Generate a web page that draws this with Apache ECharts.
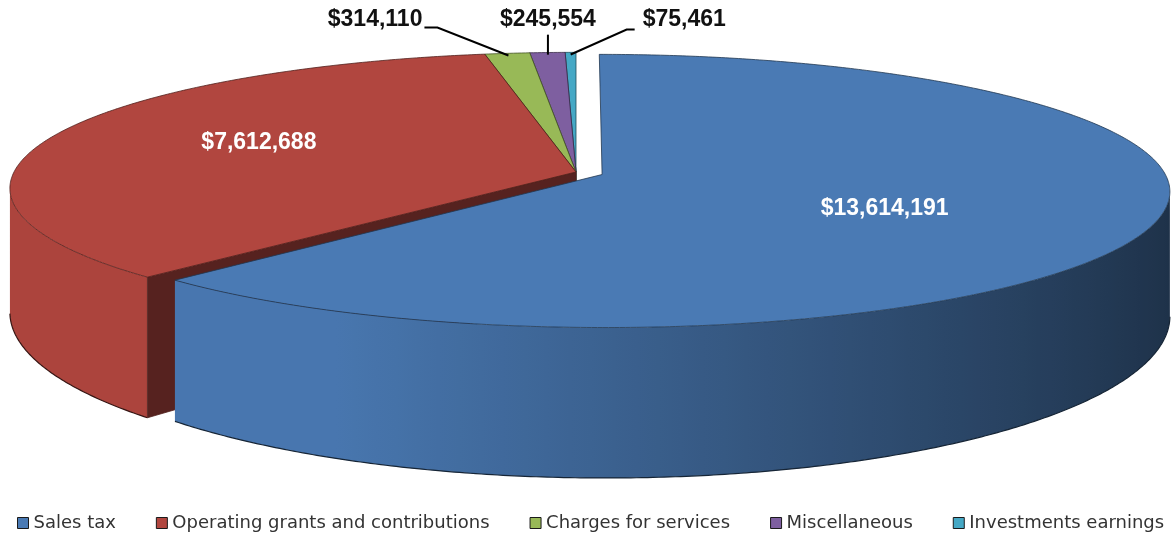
<!DOCTYPE html>
<html>
<head>
<meta charset="utf-8">
<title>Revenues by source</title>
<script src="https://cdn.jsdelivr.net/npm/echarts@6/dist/echarts.min.js"></script>
<style>
	html, body { margin: 0; padding: 0; background: #fff; }
	#chart { width: 1173px; height: 538px; }
</style>
</head>
<body>
<div id="chart"></div>
<script>
const categories = ['Sales tax', 'Operating grants and contributions', 'Charges for services', 'Miscellaneous', 'Investments earnings'];
const values = [13614191, 7612688, 314110, 245554, 75461];

const colors = ['#4A7AB4', '#B1463F', '#98B957', '#7E5FA0', '#45A8C5'];
const explode = [0.05, 0, 0, 0, 0];

// tilted pie, in pixels (persp makes the front a bit bigger than the back)
const pie = { cx: 576, cy: 172, rx: 562, ry: 134, depth: 121, persp: 0.12 };

// inside labels sit on the slice, outside ones get a leader line
const labelLayout = [
	{ inside: true, r: 0.56, dx: -18, dy: 5 },
	{ inside: true, r: 0.6, dx: -1, dy: -6 },
	{ elbow: [-71, -28], tail: -13, text: [-86, -36], align: 'right' },
	{ elbow: [0, -20], tail: 0, text: [0, -35], align: 'center' },
	{ elbow: [56, -25], tail: 8, text: [72, -35], align: 'left' }
];

( function() {

	const total = values.reduce((a, b) => a + b, 0);
	const startAngles = [];
	let acc = 0;
	values.forEach(v => { startAngles.push(90 - 360 * acc / total); acc += v; });

	const project = function(u, v, h) {
		const p = 1 / (1 + pie.persp * v);
		return [pie.cx + pie.rx * u * p, pie.cy - pie.ry * v * p + h * pie.depth * Math.pow(p, 1.67)];
	}

	const shade = function(hex, m) {
		const n = parseInt(hex.slice(1), 16);
		const c = [(n >> 16) & 255, (n >> 8) & 255, n & 255].map(x => Math.round(Math.min(255, x * m)));
		return 'rgb(' + c.join(',') + ')';
	}

	// light comes from the left
	const light = u => Math.max(0.4, Math.min(0.97, 0.8 - 0.4 * u));

	const money = v => '$' + v.toLocaleString('en-US');

	const renderSlice = function(params, api) {
		const i = params.seriesIndex;
		const val = api.value(0);
		const a0 = startAngles[i] * Math.PI / 180;
		const a1 = (startAngles[i] - 360 * val / total) * Math.PI / 180;
		const mid = (a0 + a1) / 2;
		const ox = explode[i] * Math.cos(mid);
		const oy = explode[i] * Math.sin(mid);
		const pt = (ang, r, h) => project(ox + r * Math.cos(ang), oy + r * Math.sin(ang), h);
		const base = colors[i];
		const edge = shade(base, 0.45);
		const steps = Math.max(2, Math.ceil((a0 - a1) / (Math.PI / 360)));
		const angles = [];
		for (let s = 0; s <= steps; s++) angles.push(a0 - (a0 - a1) * s / steps);
		const children = [];

		// outer wall: only the part in front of the silhouette
		const runs = [];
		let cur = null;
		angles.forEach(t => {
			if (Math.sin(t) < -pie.persp) {
				if (!cur) { cur = []; runs.push(cur); }
				cur.push(t);
			} else {
				cur = null;
			}
		});
		runs.forEach(run => {
			if (run.length < 2) return;
			const topPts = run.map(t => pt(t, 1, 0));
			const botPts = run.map(t => pt(t, 1, 1));
			const xa = topPts[0][0];
			const xb = topPts[topPts.length - 1][0];
			const stops = [];
			run.forEach((t, k) => {
				if (k % 4 && k !== run.length - 1) return;
				let off = (topPts[k][0] - xa) / (xb - xa);
				if (xa > xb) off = (topPts[k][0] - xb) / (xa - xb);
				stops.push({ offset: Math.max(0, Math.min(1, off)), color: shade(base, light(Math.cos(t))) });
			});
			stops.sort((a, b) => a.offset - b.offset);
			children.push({
				type: 'polygon',
				shape: { points: topPts.concat(botPts.slice().reverse()) },
				style: {
					fill: { type: 'linear', x: Math.min(xa, xb), y: 0, x2: Math.max(xa, xb), y2: 0, global: true, colorStops: stops },
					stroke: null
				}
			});
			children.push({ type: 'polyline', shape: { points: botPts }, style: { stroke: shade(base, 0.3), lineWidth: 1.2, fill: null } });
		});

		// cut faces that look towards the viewer
		const face = function(ang, nu) {
			children.push({
				type: 'polygon',
				shape: { points: [pt(ang, 0, 0), pt(ang, 1, 0), pt(ang, 1, 1), pt(ang, 0, 1)] },
				style: { fill: shade(base, light(nu) * 0.95), stroke: edge, lineWidth: 0.8 }
			});
		}
		if (Math.cos(a0) < -1e-6) face(a0, -Math.sin(a0));
		if (Math.cos(a1) > 1e-6) face(a1, Math.sin(a1));

		// top
		const top = [pt(0, 0, 0)].concat(angles.map(t => pt(t, 1, 0)));
		children.push({ type: 'polygon', shape: { points: top }, style: { fill: base, stroke: edge, lineWidth: 0.8 } });

		// label
		const lay = labelLayout[i];
		const font = 'bold 23px "Liberation Sans", Arial, sans-serif';
		if (lay.inside) {
			const p = pt(mid, lay.r, 0);
			children.push({
				type: 'text', x: p[0] + lay.dx, y: p[1] + lay.dy,
				style: { text: money(val), fill: '#fff', font: font, align: 'center', verticalAlign: 'middle', textAlign: 'center', textVerticalAlign: 'middle' }
			});
		} else {
			const a = pt(mid, 0.98, 0);
			const e = [a[0] + lay.elbow[0], a[1] + lay.elbow[1]];
			children.push({
				type: 'polyline',
				shape: { points: [a, e, [e[0] + lay.tail, e[1]]] },
				style: { stroke: '#000', lineWidth: 2, fill: null }
			});
			children.push({
				type: 'text', x: a[0] + lay.text[0], y: a[1] + lay.text[1],
				style: { text: money(val), fill: '#111', font: font, align: lay.align, verticalAlign: 'middle', textAlign: lay.align, textVerticalAlign: 'middle' }
			});
		}

		return { type: 'group', children: children };
	}

	// paint back slices first
	const depthOf = i => Math.sin((startAngles[i] - 180 * values[i] / total) * Math.PI / 180);
	const order = values.map((v, i) => i).sort((a, b) => depthOf(b) - depthOf(a));

	const series = categories.map((name, i) => ({
		type: 'custom',
		name: name,
		coordinateSystem: 'none',
		renderItem: renderSlice,
		data: [[values[i]]],
		itemStyle: { color: colors[i] },
		z: 2 + order.indexOf(i),
		silent: true
	}));

	const chart = echarts.init(document.getElementById('chart'));
	chart.setOption({
		animation: false,
		backgroundColor: '#fff',
		legend: {
			data: categories,
			left: 17,
			top: 509,
			width: 1156,
			padding: [5, 0, 5, 0],
			icon: 'rect',
			itemWidth: 11,
			itemHeight: 11,
			itemGap: 40,
			selectedMode: false,
			itemStyle: { borderColor: '#1a1a1a', borderWidth: 1 },
			textStyle: { fontFamily: 'DejaVu Sans', fontSize: 18, color: '#333' }
		},
		series: series
	});

}() );
</script>
</body>
</html>
